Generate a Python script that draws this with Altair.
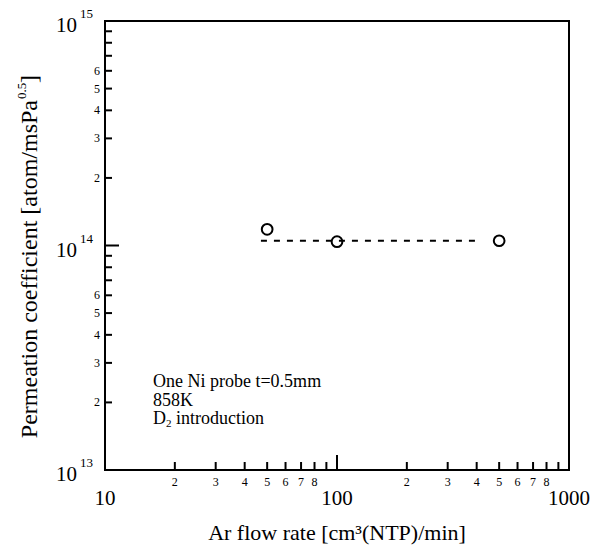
import altair as alt
import pandas as pd

# ---- data ----
flow = [50, 100, 500]                      # Ar flow rate [cm3(NTP)/min]
perm = [1.18e14, 1.04e14, 1.05e14]         # permeation coefficient
fit_flow = [47, 400]                       # dashed guide line
fit_perm = [1.05e14, 1.05e14]

x_major = [10, 100, 1000]
x_major_labels = ["10", "100", "1000"]
x_decades = [10, 100]
x_minor_mult = [2, 3, 4, 5, 6, 7, 8, 9]
x_minor_label_mult = [2, 3, 4, 5, 6, 7, 8]

y_major = [1e13, 1e14, 1e15]
y_major_exp = ["13", "14", "15"]
y_decades = [1e13, 1e14]
y_minor_mult = [2, 3, 4, 5, 6, 7, 8, 9]
y_minor_label_mult = [2, 3, 4, 5, 6]

annot_lines = ["One Ni probe t=0.5mm", "858K"]
x_title = "Ar flow rate [cm³(NTP)/min]"
y_title_main = "Permeation coefficient [atom/msPa"
y_title_sup = "0.5"
y_title_end = "]"

FONT = "Liberation Serif"
W, H = 464, 449

xs = alt.Scale(type="log", domain=[10, 1000], nice=False)
ys = alt.Scale(type="log", domain=[1e13, 1e15], nice=False)

pts = pd.DataFrame({"x": flow, "y": perm})
fit = pd.DataFrame({"x": fit_flow, "y": fit_perm})
x_minor = pd.DataFrame({"x": [d * m for d in x_decades for m in x_minor_mult]})
x_minor_lab = pd.DataFrame({"x": [d * m for d in x_decades for m in x_minor_label_mult],
                            "t": [str(m) for d in x_decades for m in x_minor_label_mult]})
x_maj = pd.DataFrame({"x": x_major, "t": x_major_labels})
y_minor = pd.DataFrame({"y": [d * m for d in y_decades for m in y_minor_mult]})
y_minor_lab = pd.DataFrame({"y": [d * m for d in y_decades for m in y_minor_label_mult],
                            "t": [str(m) for d in y_decades for m in y_minor_label_mult]})
y_maj = pd.DataFrame({"y": y_major, "e": y_major_exp})
one = pd.DataFrame({"k": [0]})

X = lambda: alt.X("x:Q", scale=xs, axis=None)
Y = lambda: alt.Y("y:Q", scale=ys, axis=None)

points = alt.Chart(pts).mark_point(shape="circle", filled=False, color="black",
                                   size=115, strokeWidth=2, opacity=1).encode(x=X(), y=Y())
line = alt.Chart(fit).mark_line(color="black", strokeWidth=2, strokeDash=[6, 7]).encode(x=X(), y=Y())

# ticks (inward)
y_minor_ticks = alt.Chart(y_minor).mark_rule(color="black", strokeWidth=2).encode(
    y=Y(), x=alt.value(0), x2=alt.value(7))
y_major_tick = alt.Chart(pd.DataFrame({"y": [1e14]})).mark_rule(color="black", strokeWidth=2).encode(
    y=Y(), x=alt.value(0), x2=alt.value(14))
x_minor_ticks = alt.Chart(x_minor).mark_rule(color="black", strokeWidth=2).encode(
    x=X(), y=alt.value(H), y2=alt.value(H - 8))
x_major_tick = alt.Chart(pd.DataFrame({"x": [100]})).mark_rule(color="black", strokeWidth=2).encode(
    x=X(), y=alt.value(H), y2=alt.value(H - 15))

# tick labels
y_minor_text = alt.Chart(y_minor_lab).mark_text(font=FONT, fontSize=12, align="right",
                                                baseline="middle", color="black").encode(
    y=Y(), x=alt.value(-5), text="t:N")
y_major_ten = alt.Chart(y_maj).mark_text(font=FONT, fontSize=21, align="right",
                                         baseline="middle", dy=5, color="black", text="10").encode(
    y=Y(), x=alt.value(-28))
y_major_exp_t = alt.Chart(y_maj).mark_text(font=FONT, fontSize=13, align="left",
                                           baseline="middle", dy=-7, color="black").encode(
    y=Y(), x=alt.value(-25), text="e:N")
x_minor_text = alt.Chart(x_minor_lab).mark_text(font=FONT, fontSize=12, align="center",
                                                baseline="middle", color="black").encode(
    x=X(), y=alt.value(H + 12), text="t:N")
x_major_text = alt.Chart(x_maj).mark_text(font=FONT, fontSize=21, align="center",
                                          baseline="middle", color="black").encode(
    x=X(), y=alt.value(H + 29), text="t:N")

# axis titles
xt = alt.Chart(one).mark_text(font=FONT, fontSize=22, align="center", baseline="alphabetic",
                              color="black", text=x_title).encode(
    x=alt.value(W / 2), y=alt.value(H + 70))
yt_main = alt.Chart(one).mark_text(font=FONT, fontSize=24, align="right", baseline="alphabetic",
                                   angle=270, color="black", text=y_title_main).encode(
    x=alt.value(-68), y=alt.value(79))
yt_sup = alt.Chart(one).mark_text(font=FONT, fontSize=13, align="left", baseline="alphabetic",
                                  angle=270, color="black", text=y_title_sup).encode(
    x=alt.value(-79), y=alt.value(78))
yt_end = alt.Chart(one).mark_text(font=FONT, fontSize=24, align="left", baseline="alphabetic",
                                  angle=270, color="black", text=y_title_end).encode(
    x=alt.value(-68), y=alt.value(62))

# annotation
ann1 = alt.Chart(one).mark_text(font=FONT, fontSize=18, align="left", baseline="alphabetic",
                                color="black", text=annot_lines[0]).encode(
    x=alt.value(48), y=alt.value(366))
ann2 = alt.Chart(one).mark_text(font=FONT, fontSize=18, align="left", baseline="alphabetic",
                                color="black", text=annot_lines[1]).encode(
    x=alt.value(48), y=alt.value(384.5))
ann3a = alt.Chart(one).mark_text(font=FONT, fontSize=18, align="left", baseline="alphabetic",
                                 color="black", text="D").encode(
    x=alt.value(48), y=alt.value(403))
ann3b = alt.Chart(one).mark_text(font=FONT, fontSize=11, align="left", baseline="alphabetic",
                                 color="black", text="2").encode(
    x=alt.value(61), y=alt.value(406))
ann3c = alt.Chart(one).mark_text(font=FONT, fontSize=18, align="left", baseline="alphabetic",
                                 color="black", text="introduction").encode(
    x=alt.value(71), y=alt.value(403))

chart = alt.layer(
    line, points,
    y_minor_ticks, y_major_tick, x_minor_ticks, x_major_tick,
    y_minor_text, y_major_ten, y_major_exp_t, x_minor_text, x_major_text,
    xt, yt_main, yt_sup, yt_end,
    ann1, ann2, ann3a, ann3b, ann3c,
).properties(
    width=W, height=H,
    autosize=alt.AutoSizeParams(type="none"),
    padding={"left": 105, "top": 21, "right": 33, "bottom": 88},
    background="white",
).configure_view(stroke="black", strokeWidth=2)

chart.save("out.html", embed_options={"renderer": "svg", "actions": False})
